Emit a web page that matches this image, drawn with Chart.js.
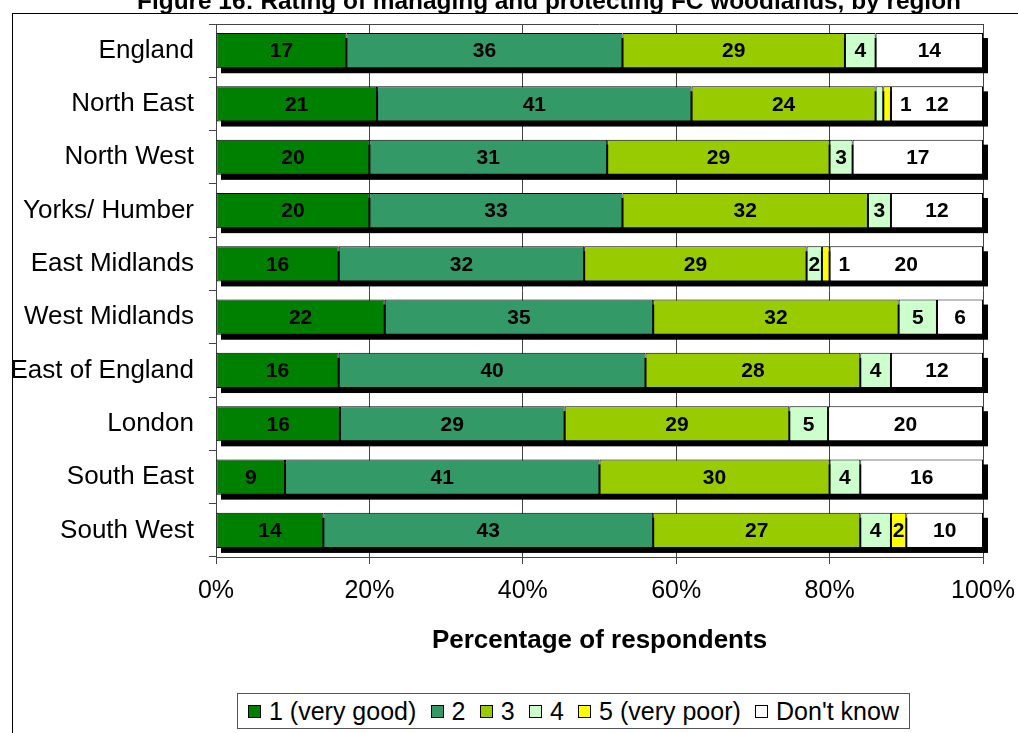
<!DOCTYPE html>
<html>
<head>
<meta charset="utf-8">
<script src="https://cdn.jsdelivr.net/npm/chart.js@4"></script>
<style>
  html, body { margin: 0; padding: 0; background: #fff; overflow: hidden; }
  #wrap { position: relative; width: 1018px; height: 733px; overflow: hidden; }
  #frame { position: absolute; left: 12px; top: 13px; width: 1100px; height: 800px; border: 1px solid #000; }
  #chart { position: absolute; left: 0; top: 0; }
  #title { position: absolute; left: 549px; top: -11px; transform: translateX(-50%); white-space: nowrap;
           font: bold 24.4px/24px "Liberation Sans", Arial, sans-serif; color: #000; }
  #legend { position: absolute; left: 237px; top: 693px; width: 673px; height: 36px; border: 1px solid #555;
            background: #fff; display: flex; align-items: center; justify-content: space-between;
            padding: 0 10px; box-sizing: border-box;
            font: 25px "Liberation Sans", Arial, sans-serif; color: #000; }
  .lg-item { display: flex; align-items: center; gap: 8px; white-space: nowrap; }
  .lg-box { width: 11px; height: 11px; border: 1px solid #000; flex-shrink: 0; }
</style>
</head>
<body>
<div id="wrap">
  <div id="frame"></div>
  <canvas id="chart" width="1018" height="733"></canvas>
  <div id="title">Figure 16: Rating of managing and protecting FC woodlands, by region</div>
  <div id="legend"></div>
</div>
<script>
const regions = ['England', 'North East', 'North West', 'Yorks/ Humber', 'East Midlands',
  'West Midlands', 'East of England', 'London', 'South East', 'South West'];
const seriesNames = ['1 (very good)', '2', '3', '4', '5 (very poor)', "Don't know"];
const seriesColors = ['#008000', '#339966', '#99cc00', '#ccffcc', '#ffff00', '#ffffff'];
const veryGood = [17, 21, 20, 20, 16, 22, 16, 16, 9, 14];
const rating2  = [36, 41, 31, 33, 32, 35, 40, 29, 41, 43];
const rating3  = [29, 24, 29, 32, 29, 32, 28, 29, 30, 27];
const rating4  = [4, 1, 3, 3, 2, 5, 4, 5, 4, 4];
const veryPoor = [0, 1, 0, 0, 1, 0, 0, 0, 0, 2];
const dontKnow = [14, 12, 17, 12, 20, 6, 12, 20, 16, 10];
const tickLabels = ['0%', '20%', '40%', '60%', '80%', '100%'];

const series = [veryGood, rating2, rating3, rating4, veryPoor, dontKnow];
// 100% stacked: each row is scaled to its own total (London adds up to 99)
const rowTotals = regions.map((_, i) => series.reduce((s, arr) => s + arr[i], 0));

const fontFamily = '"Liberation Sans", Arial, sans-serif';

// legend
const legendEl = document.getElementById('legend');
legendEl.innerHTML = seriesNames.map((n, i) =>
  `<span class="lg-item"><span class="lg-box" style="background:${seriesColors[i]}"></span>${n}</span>`
).join('');

const shadowPlugin = {
  id: 'barShadow',
  beforeDatasetsDraw(chart) {
    const ctx = chart.ctx;
    const xs = chart.scales.x;
    const x0 = xs.getPixelForValue(0), x1 = xs.getPixelForValue(100);
    ctx.save();
    ctx.fillStyle = '#000';
    chart.getDatasetMeta(0).data.forEach(bar => {
      const h = bar.height;
      ctx.fillRect(x0 + 5, bar.y - h / 2 + 5, x1 - x0, h);
    });
    ctx.restore();
  }
};

const frameLinePlugin = {
  id: 'plotTop',
  afterDraw(chart) {
    const { ctx, chartArea: a } = chart;
    ctx.save();
    ctx.strokeStyle = '#444';
    ctx.lineWidth = 1;
    ctx.beginPath();
    ctx.moveTo(a.left, Math.round(a.top) + 0.5);
    ctx.lineTo(a.right, Math.round(a.top) + 0.5);
    ctx.stroke();
    ctx.restore();
  }
};

const valueLabels = {
  id: 'valueLabels',
  afterDatasetsDraw(chart) {
    const ctx = chart.ctx;
    ctx.save();
    ctx.font = 'bold 21px ' + fontFamily;
    ctx.fillStyle = '#000';
    ctx.textBaseline = 'middle';
    series.forEach((arr, d) => {
      chart.getDatasetMeta(d).data.forEach((bar, i) => {
        const v = arr[i];
        if (!v) return;
        const txt = String(v);
        const w = Math.abs(bar.x - bar.base);
        const tw = ctx.measureText(txt).width;
        if (tw <= w + 2) {
          ctx.textAlign = 'center';
          ctx.fillText(txt, (bar.x + bar.base) / 2, bar.y + 1);
        } else if (d === 4) {
          ctx.textAlign = 'left';
          ctx.fillText(txt, bar.x + 9, bar.y + 1);
        }
      });
    });
    ctx.restore();
  }
};

new Chart(document.getElementById('chart'), {
  type: 'bar',
  data: {
    labels: regions,
    datasets: series.map((arr, d) => ({
      label: seriesNames[d],
      data: arr.map((v, i) => v / rowTotals[i] * 100),
      backgroundColor: seriesColors[d],
      borderColor: '#000',
      borderWidth: 1,
      borderSkipped: false,
      barPercentage: 0.66,
      categoryPercentage: 1
    }))
  },
  options: {
    indexAxis: 'y',
    responsive: false,
    animation: false,
    layout: { padding: { left: 0, right: 35, top: 24, bottom: 0 } },
    plugins: { legend: { display: false }, tooltip: { enabled: false } },
    scales: {
      x: {
        stacked: true, min: 0, max: 100,
        afterFit(scale) { scale.height = 176; scale.paddingLeft = 0; scale.paddingRight = 0; },
        ticks: {
          stepSize: 20, padding: 12, color: '#000', maxRotation: 0,
          font: { family: fontFamily, size: 25 },
          callback: v => tickLabels[Math.round(v / 20)]
        },
        grid: { color: '#444', lineWidth: 1, tickLength: 7 },
        border: { color: '#444' },
        title: {
          display: true, text: 'Percentage of respondents', color: '#000',
          font: { family: fontFamily, size: 26, weight: 'bold' },
          padding: { top: 0, bottom: 77 }
        }
      },
      y: {
        stacked: true,
        afterFit(scale) { scale.width = 216; scale.paddingTop = 0; scale.paddingBottom = 0; },
        ticks: { color: '#000', padding: 15, font: { family: fontFamily, size: 26 } },
        grid: { drawOnChartArea: false, color: '#444', tickLength: 7 },
        border: { color: '#444' }
      }
    }
  },
  plugins: [shadowPlugin, valueLabels, frameLinePlugin]
});
</script>
</body>
</html>
